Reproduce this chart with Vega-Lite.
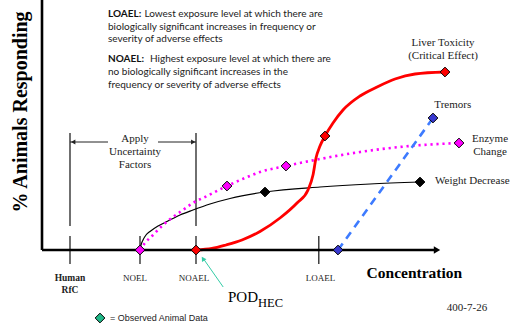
{
  "$schema": "https://vega.github.io/schema/vega-lite/v6.json",
  "width": 515,
  "height": 327,
  "autosize": {"type": "none"},
  "padding": 0,
  "background": "white",
  "config": {"view": {"stroke": null}},
  "datasets": {
    "curves": [
      {"series": "Liver", "x": 38.5, "y": 0},
      {"series": "Liver", "x": 42.5, "y": 0.6},
      {"series": "Liver", "x": 46, "y": 2},
      {"series": "Liver", "x": 50, "y": 4},
      {"series": "Liver", "x": 54.5, "y": 7.4},
      {"series": "Liver", "x": 59.5, "y": 12.8},
      {"series": "Liver", "x": 63.75, "y": 18.8},
      {"series": "Liver", "x": 66.5, "y": 24},
      {"series": "Liver", "x": 67.75, "y": 30},
      {"series": "Liver", "x": 68.5, "y": 36.8},
      {"series": "Liver", "x": 69.5, "y": 41.6},
      {"series": "Liver", "x": 70.75, "y": 45.6},
      {"series": "Liver", "x": 72.75, "y": 50.8},
      {"series": "Liver", "x": 75.25, "y": 56},
      {"series": "Liver", "x": 79.5, "y": 61.6},
      {"series": "Liver", "x": 83.75, "y": 65.2},
      {"series": "Liver", "x": 88.25, "y": 68.4},
      {"series": "Liver", "x": 93.25, "y": 70.4},
      {"series": "Liver", "x": 100.75, "y": 71.2},
      {"series": "Enzyme", "x": 24.5, "y": 0},
      {"series": "Enzyme", "x": 25.75, "y": 2.8},
      {"series": "Enzyme", "x": 27.75, "y": 6},
      {"series": "Enzyme", "x": 30, "y": 9.6},
      {"series": "Enzyme", "x": 32.75, "y": 13.2},
      {"series": "Enzyme", "x": 35.25, "y": 16},
      {"series": "Enzyme", "x": 37.75, "y": 18.8},
      {"series": "Enzyme", "x": 41.25, "y": 21.6},
      {"series": "Enzyme", "x": 46.25, "y": 25.6},
      {"series": "Enzyme", "x": 50.75, "y": 28.8},
      {"series": "Enzyme", "x": 54.5, "y": 31.2},
      {"series": "Enzyme", "x": 61, "y": 33.6},
      {"series": "Enzyme", "x": 69.5, "y": 36.4},
      {"series": "Enzyme", "x": 79.5, "y": 39.2},
      {"series": "Enzyme", "x": 92, "y": 41.6},
      {"series": "Enzyme", "x": 104.25, "y": 42.8},
      {"series": "Weight", "x": 24.5, "y": 0},
      {"series": "Weight", "x": 24.75, "y": 2},
      {"series": "Weight", "x": 25.25, "y": 4},
      {"series": "Weight", "x": 26, "y": 6},
      {"series": "Weight", "x": 27, "y": 7.4},
      {"series": "Weight", "x": 29, "y": 9.6},
      {"series": "Weight", "x": 31.25, "y": 11.4},
      {"series": "Weight", "x": 34.5, "y": 14},
      {"series": "Weight", "x": 37.75, "y": 16},
      {"series": "Weight", "x": 42, "y": 18.4},
      {"series": "Weight", "x": 47, "y": 20.6},
      {"series": "Weight", "x": 55.75, "y": 23.2},
      {"series": "Weight", "x": 69.5, "y": 25.2},
      {"series": "Weight", "x": 82, "y": 26.4},
      {"series": "Weight", "x": 94.5, "y": 27.2},
      {"series": "Tremors", "x": 74, "y": 0},
      {"series": "Tremors", "x": 97.75, "y": 52.8}
    ],
    "diamonds": [
      {"series": "Enzyme", "x": 24.5, "y": 0},
      {"series": "Enzyme", "x": 46.25, "y": 25.6},
      {"series": "Enzyme", "x": 61, "y": 33.6},
      {"series": "Enzyme", "x": 104.25, "y": 42.8},
      {"series": "Weight", "x": 55.75, "y": 23.2},
      {"series": "Weight", "x": 94.5, "y": 27.2},
      {"series": "Liver", "x": 38.5, "y": 0},
      {"series": "Liver", "x": 70.75, "y": 45.6},
      {"series": "Liver", "x": 100.75, "y": 71.2},
      {"series": "Tremors", "x": 74, "y": 0},
      {"series": "Tremors", "x": 97.75, "y": 52.8},
      {"series": "Legend", "x": 14.5, "y": -27.2}
    ],
    "segments": [
      {"kind": "axis", "x": 0, "y": 0, "x2": 0, "y2": 100},
      {"kind": "axis", "x": 0, "y": 0, "x2": 98, "y2": 0},
      {"kind": "tick", "x": 7, "y": 46.8, "x2": 7, "y2": 9.6},
      {"kind": "tick", "x": 7, "y": 5.6, "x2": 7, "y2": -5.6},
      {"kind": "tick", "x": 38.5, "y": 46.8, "x2": 38.5, "y2": 9.6},
      {"kind": "tick", "x": 38.5, "y": 5.6, "x2": 38.5, "y2": -5.6},
      {"kind": "tick", "x": 24.5, "y": 5.6, "x2": 24.5, "y2": -5.6},
      {"kind": "tick", "x": 69.2, "y": 5.6, "x2": 69.2, "y2": -5.6},
      {"kind": "bracket", "x": 7, "y": 43.2, "x2": 16.5, "y2": 43.2},
      {"kind": "bracket", "x": 29, "y": 43.2, "x2": 38.5, "y2": 43.2},
      {"kind": "pod", "x": 45.3, "y": -14.8, "x2": 40.4, "y2": -3.6}
    ],
    "arrows": [
      {"kind": "axis", "x": 98.75, "y": 0},
      {"kind": "left", "x": 7.8, "y": 43.2},
      {"kind": "right", "x": 37.8, "y": 43.2},
      {"kind": "pod", "x": 40.25, "y": -3.5}
    ],
    "labels": [
      {"group": "serifc", "text": "Apply", "x": 23.25, "y": 44.4},
      {"group": "serifc", "text": "Uncertainty", "x": 23.25, "y": 39.2},
      {"group": "serifc", "text": "Factors", "x": 23.25, "y": 34},
      {"group": "serifc", "text": "Liver Toxicity", "x": 100.25, "y": 82.8},
      {"group": "serifc", "text": "(Critical Effect)", "x": 100.25, "y": 77.6},
      {"group": "serifc", "text": "Tremors", "x": 102.7, "y": 58},
      {"group": "serifc", "text": "Enzyme", "x": 112, "y": 44.4},
      {"group": "serifc", "text": "Change", "x": 112, "y": 39.2},
      {"group": "serifl", "text": "Weight Decrease", "x": 98.25, "y": 27.6},
      {"group": "serifl", "text": "400-7-26", "x": 101.2, "y": -23.3},
      {"group": "tickc", "text": "NOEL", "x": 23.25, "y": -11.3},
      {"group": "tickc", "text": "NOAEL", "x": 38, "y": -11.3},
      {"group": "tickc", "text": "LOAEL", "x": 69.6, "y": -11.3},
      {"group": "tickb", "text": "Human", "x": 7, "y": -11.3},
      {"group": "tickb", "text": "RfC", "x": 7, "y": -16},
      {"group": "ytitle", "text": "% Animals Responding", "x": -5.25, "y": 55.2},
      {"group": "xtitle", "text": "Concentration", "x": 93.1, "y": -9.1},
      {"group": "pod", "text": "POD", "x": 46.5, "y": -18.7},
      {"group": "hec", "text": "HEC", "x": 54, "y": -21.2},
      {"group": "legend", "text": "= Observed Animal Data", "x": 17, "y": -27.3},
      {"group": "topb", "text": "LOAEL:", "x": 16.5, "y": 94.4},
      {"group": "topr", "text": "Lowest exposure level at which there are", "x": 25.6, "y": 94.4},
      {"group": "topr", "text": "biologically significant increases in frequency or", "x": 16.5, "y": 89.3},
      {"group": "topr", "text": "severity of adverse effects", "x": 16.5, "y": 84.3},
      {"group": "topb", "text": "NOAEL:", "x": 16.5, "y": 76.3},
      {"group": "topr", "text": "Highest exposure level at which there are", "x": 27, "y": 76.3},
      {"group": "topr", "text": "no biologically significant increases in the", "x": 16.5, "y": 71.2},
      {"group": "topr", "text": "frequency or severity of adverse effects", "x": 16.5, "y": 66}
    ]
  },
  "encoding": {
    "x": {"field": "x", "type": "quantitative", "axis": null, "scale": {"domain": [-10.5, 118.25], "nice": false, "zero": false}},
    "y": {"field": "y", "type": "quantitative", "axis": null, "scale": {"domain": [-30.8, 100], "nice": false, "zero": false}}
  },
  "layer": [
    {
      "data": {"name": "segments"},
      "transform": [{"filter": "datum.kind === 'tick'"}],
      "mark": {"type": "rule", "color": "#222222", "strokeWidth": 1.3},
      "encoding": {"x2": {"field": "x2"}, "y2": {"field": "y2"}}
    },
    {
      "data": {"name": "segments"},
      "transform": [{"filter": "datum.kind === 'bracket'"}],
      "mark": {"type": "rule", "color": "#222222", "strokeWidth": 1},
      "encoding": {"x2": {"field": "x2"}, "y2": {"field": "y2"}}
    },
    {
      "data": {"name": "segments"},
      "transform": [{"filter": "datum.kind === 'pod'"}],
      "mark": {"type": "rule", "color": "#33cca6", "strokeWidth": 1},
      "encoding": {"x2": {"field": "x2"}, "y2": {"field": "y2"}}
    },
    {
      "data": {"name": "curves"},
      "transform": [{"filter": "datum.series === 'Weight'"}],
      "mark": {"type": "line", "color": "#000000", "strokeWidth": 1.2, "interpolate": "monotone"},
      "encoding": {}
    },
    {
      "data": {"name": "curves"},
      "transform": [{"filter": "datum.series === 'Enzyme'"}],
      "mark": {"type": "line", "color": "#ff00ff", "strokeWidth": 2.6, "strokeDash": [2.2, 3.8], "interpolate": "monotone"},
      "encoding": {}
    },
    {
      "data": {"name": "curves"},
      "transform": [{"filter": "datum.series === 'Tremors'"}],
      "mark": {"type": "line", "color": "#3d7bff", "strokeWidth": 2.6, "strokeDash": [8, 6]},
      "encoding": {}
    },
    {
      "data": {"name": "curves"},
      "transform": [{"filter": "datum.series === 'Liver'"}],
      "mark": {"type": "line", "color": "#ff0000", "strokeWidth": 2.8, "interpolate": "monotone"},
      "encoding": {}
    },
    {
      "data": {"name": "segments"},
      "transform": [{"filter": "datum.kind === 'axis'"}],
      "mark": {"type": "rule", "color": "#000000", "strokeWidth": 2.6},
      "encoding": {"x2": {"field": "x2"}, "y2": {"field": "y2"}}
    },
    {
      "data": {"name": "arrows"},
      "transform": [{"filter": "datum.kind === 'axis'"}],
      "mark": {"type": "point", "shape": "triangle-right", "size": 55, "filled": true, "color": "#000000", "opacity": 1}
    },
    {
      "data": {"name": "arrows"},
      "transform": [{"filter": "datum.kind === 'left'"}],
      "mark": {"type": "point", "shape": "triangle-left", "size": 25, "filled": true, "color": "#222222", "opacity": 1}
    },
    {
      "data": {"name": "arrows"},
      "transform": [{"filter": "datum.kind === 'right'"}],
      "mark": {"type": "point", "shape": "triangle-right", "size": 25, "filled": true, "color": "#222222", "opacity": 1}
    },
    {
      "data": {"name": "arrows"},
      "transform": [{"filter": "datum.kind === 'pod'"}],
      "mark": {"type": "point", "shape": "triangle-up", "size": 28, "filled": true, "color": "#33cca6", "opacity": 1, "angle": 327}
    },
    {
      "data": {"name": "diamonds"},
      "mark": {"type": "point", "shape": "diamond", "size": 95, "filled": true, "stroke": "#000000", "strokeWidth": 1, "opacity": 1},
      "encoding": {
        "fill": {"field": "series", "type": "nominal", "legend": null, "scale": {"domain": ["Liver", "Enzyme", "Weight", "Tremors", "Legend"], "range": ["#ff0000", "#ff00ff", "#000000", "#3838d0", "#20b888"]}}
      }
    },
    {
      "data": {"name": "labels"},
      "transform": [{"filter": "datum.group === 'serifc'"}],
      "mark": {"type": "text", "font": "Liberation Serif", "fontSize": 11, "align": "center", "baseline": "middle", "color": "#222222"},
      "encoding": {"text": {"field": "text"}}
    },
    {
      "data": {"name": "labels"},
      "transform": [{"filter": "datum.group === 'serifl'"}],
      "mark": {"type": "text", "font": "Liberation Serif", "fontSize": 11, "align": "left", "baseline": "middle", "color": "#222222"},
      "encoding": {"text": {"field": "text"}}
    },
    {
      "data": {"name": "labels"},
      "transform": [{"filter": "datum.group === 'tickc'"}],
      "mark": {"type": "text", "font": "Liberation Serif", "fontSize": 9, "align": "center", "baseline": "middle", "color": "#222222"},
      "encoding": {"text": {"field": "text"}}
    },
    {
      "data": {"name": "labels"},
      "transform": [{"filter": "datum.group === 'tickb'"}],
      "mark": {"type": "text", "font": "Liberation Serif", "fontSize": 9.5, "fontWeight": "bold", "align": "center", "baseline": "middle", "color": "#222222"},
      "encoding": {"text": {"field": "text"}}
    },
    {
      "data": {"name": "labels"},
      "transform": [{"filter": "datum.group === 'ytitle'"}],
      "mark": {"type": "text", "font": "Liberation Serif", "fontSize": 20, "fontWeight": "bold", "angle": 270, "align": "center", "baseline": "middle", "color": "#000000"},
      "encoding": {"text": {"field": "text"}}
    },
    {
      "data": {"name": "labels"},
      "transform": [{"filter": "datum.group === 'xtitle'"}],
      "mark": {"type": "text", "font": "Liberation Serif", "fontSize": 15.5, "fontWeight": "bold", "align": "center", "baseline": "middle", "color": "#000000"},
      "encoding": {"text": {"field": "text"}}
    },
    {
      "data": {"name": "labels"},
      "transform": [{"filter": "datum.group === 'pod'"}],
      "mark": {"type": "text", "font": "Liberation Serif", "fontSize": 15, "align": "left", "baseline": "middle", "color": "#000000"},
      "encoding": {"text": {"field": "text"}}
    },
    {
      "data": {"name": "labels"},
      "transform": [{"filter": "datum.group === 'hec'"}],
      "mark": {"type": "text", "font": "Liberation Serif", "fontSize": 12.5, "align": "left", "baseline": "middle", "color": "#000000"},
      "encoding": {"text": {"field": "text"}}
    },
    {
      "data": {"name": "labels"},
      "transform": [{"filter": "datum.group === 'legend'"}],
      "mark": {"type": "text", "font": "Liberation Sans", "fontSize": 9, "align": "left", "baseline": "middle", "color": "#222222"},
      "encoding": {"text": {"field": "text"}}
    },
    {
      "data": {"name": "labels"},
      "transform": [{"filter": "datum.group === 'topb'"}],
      "mark": {"type": "text", "font": "Lato", "fontSize": 10, "fontWeight": "bold", "align": "left", "baseline": "middle", "color": "#111111"},
      "encoding": {"text": {"field": "text"}}
    },
    {
      "data": {"name": "labels"},
      "transform": [{"filter": "datum.group === 'topr'"}],
      "mark": {"type": "text", "font": "Lato", "fontSize": 10, "align": "left", "baseline": "middle", "color": "#222222"},
      "encoding": {"text": {"field": "text"}}
    }
  ]
}
